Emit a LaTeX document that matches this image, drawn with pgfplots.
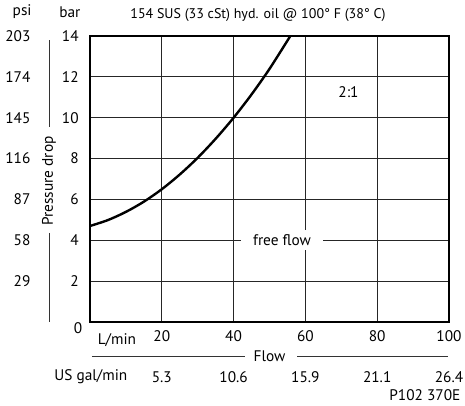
\documentclass[border=0pt]{standalone}
\usepackage{fontspec}
\setmainfont{PT Sans}
\usepackage{pgfplots}
\pgfplotsset{compat=1.18}
\begin{document}
\begin{tikzpicture}[lab/.style={font=\fontsize{11.5}{13}\selectfont}]
\useasboundingbox (0,0) rectangle (348.75pt,303.75pt);
\begin{axis}[
  scale only axis, width=269.25pt, height=214.5pt,
  at={(67.5pt,62.25pt)}, anchor=south west,
  xmin=0, xmax=100, ymin=0, ymax=14,
  xtick={20,40,60,80,100}, ytick={2,4,...,14},
  major tick length=0pt,
  grid=major, major grid style={black!85, line width=0.55pt},
  axis line style={black, line width=1pt},
  /pgf/number format/assume math mode=true,
  tick label style={font=\fontsize{11.5}{13}\selectfont},
  yticklabel style={xshift=-5pt},
  xticklabel style={yshift=-3pt},
  clip=false,
]
\addplot[black, line width=1.8pt, smooth] coordinates {
 (0,4.70) (5,4.99) (10,5.39) (15,5.89) (20,6.50) (25,7.22) (30,8.04)
 (35,8.97) (40,10.0) (45,11.14) (50,12.39) (55.8,14.0)};
\node[fill=white, inner xsep=9pt, lab] at (axis cs:53.5,4) {free flow};
\node[lab] at (axis cs:72,11.27) {2:1};
\node[anchor=east, lab] at (axis cs:-15.3,14) {203};
\node[anchor=east, lab] at (axis cs:-15.3,12) {174};
\node[anchor=east, lab] at (axis cs:-15.3,10) {145};
\node[anchor=east, lab] at (axis cs:-15.3,8) {116};
\node[anchor=east, lab] at (axis cs:-15.3,6) {87};
\node[anchor=east, lab] at (axis cs:-15.3,4) {58};
\node[anchor=east, lab] at (axis cs:-15.3,2) {29};
\node[lab] at (axis cs:-3.3,-0.3) {0};
\node[lab] at (axis cs:-18.9,15.17) {psi};
\node[lab] at (axis cs:-5.6,15.17) {bar};
\node[font=\fontsize{10.5}{12}\selectfont] at (axis cs:46.8,15.03) {154 SUS (33 cSt) hyd. oil @ 100° F (38° C)};
\node[rotate=90, lab] at (axis cs:-11.4,6.9) {Pressure drop};
\draw[black!80, line width=0.6pt] (axis cs:-11.4,13.8) -- (axis cs:-11.4,9.55);
\draw[black!80, line width=0.6pt] (axis cs:-11.4,4.36) -- (axis cs:-11.4,0);
\node[lab] at (axis cs:7.5,-0.88) {L/min};
\draw[black!80, line width=0.6pt] (axis cs:0.5,-1.66) -- (axis cs:43.2,-1.66);
\draw[black!80, line width=0.6pt] (axis cs:57.7,-1.66) -- (axis cs:99.7,-1.66);
\node[lab] at (axis cs:50,-1.66) {Flow};
\node[anchor=east, lab] at (axis cs:11.7,-2.69) {US gal/min};
\node[lab] at (axis cs:20,-2.69) {5.3};
\node[lab] at (axis cs:40,-2.69) {10.6};
\node[lab] at (axis cs:60,-2.69) {15.9};
\node[lab] at (axis cs:80,-2.69) {21.1};
\node[lab] at (axis cs:100,-2.69) {26.4};
\node[anchor=east, lab] at (axis cs:104.5,-3.57) {P102 370E};
\end{axis}
\end{tikzpicture}
\end{document}
